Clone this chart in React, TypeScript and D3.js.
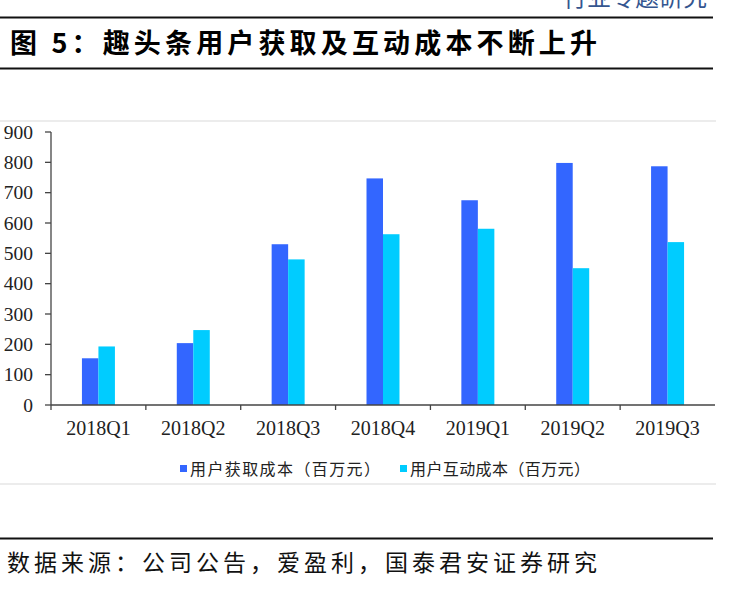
import React from "react";
import * as d3 from "d3";

const categories = ["2018Q1", "2018Q2", "2018Q3", "2018Q4", "2019Q1", "2019Q2", "2019Q3"];
const acquisitionCost = [154, 204, 530, 747, 675, 798, 787];
const interactionCost = [193, 247, 480, 563, 581, 451, 537];
const seriesNames = ["用户获取成本（百万元）", "用户互动成本（百万元）"];
const seriesColors = ["#3366FF", "#00CCFF"];
const yTicks = [0, 100, 200, 300, 400, 500, 600, 700, 800, 900];
const titleText = "图 5：趣头条用户获取及互动成本不断上升";
const sourceText = "数据来源：公司公告，爱盈利，国泰君安证券研究";
const headerText = "行业专题研究";

const W = 731;
const H = 592;
const plot = { left: 51, right: 715, top: 132, bottom: 405 };

export default function App() {
  const x0 = d3.scaleBand<string>().domain(categories).range([plot.left, plot.right]).padding(0);
  const x1 = d3
    .scaleBand<string>()
    .domain(seriesNames)
    .range([0, x0.bandwidth()])
    .paddingInner(0)
    .paddingOuter(1.875);
  const y = d3.scaleLinear().domain([0, 900]).range([plot.bottom, plot.top]);
  const seriesData = [acquisitionCost, interactionCost];
  const axisColor = "#444";
  const boundaries = d3.range(categories.length + 1).map((i) =>
    i < categories.length ? (x0(categories[i]) as number) : plot.right
  );

  return (
    <svg
      width={W}
      height={H}
      viewBox={`0 0 ${W} ${H}`}
      style={{ position: "absolute", left: 0, top: 0, background: "#fff" }}
    >
      {/* header (cut off at the top edge, as in the source page) */}
      <text
        x={707}
        y={6}
        textAnchor="end"
        fontFamily="Noto Sans CJK SC"
        fontSize={24}
        fill="#34558f"
      >
        {headerText}
      </text>
      <line x1={0} x2={713} y1={17.5} y2={17.5} stroke="#111" strokeWidth={2} />
      <text
        x={10}
        y={53}
        fontFamily="Noto Sans CJK SC"
        fontWeight="bold"
        fontSize={27}
        fill="#000"
        textLength={587}
        lengthAdjust="spacing"
      >
        {titleText}
      </text>
      <line x1={0} x2={713} y1={68.5} y2={68.5} stroke="#111" strokeWidth={2} />

      {/* chart frame lines */}
      <line x1={0} x2={716} y1={121} y2={121} stroke="#d9d9d9" strokeWidth={1} />
      <line x1={0} x2={716} y1={484} y2={484} stroke="#d9d9d9" strokeWidth={1} />

      {/* bars */}
      {categories.map((c, i) => (
        <g key={c} transform={`translate(${x0(c)},0)`}>
          {seriesNames.map((s, j) => (
            <rect
              key={s}
              x={x1(s)}
              y={y(seriesData[j][i])}
              width={x1.bandwidth()}
              height={y(0) - y(seriesData[j][i])}
              fill={seriesColors[j]}
            />
          ))}
        </g>
      ))}

      {/* y axis */}
      <line x1={plot.left} x2={plot.left} y1={plot.top} y2={plot.bottom + 5} stroke={axisColor} strokeWidth={1.3} />
      {yTicks.map((t) => (
        <g key={t}>
          <line x1={plot.left - 6} x2={plot.left} y1={y(t)} y2={y(t)} stroke={axisColor} strokeWidth={1.3} />
          <text
            x={33}
            y={y(t)}
            dy="0.35em"
            textAnchor="end"
            fontFamily="Liberation Serif"
            fontSize={19.5}
            fill="#222"
          >
            {t}
          </text>
        </g>
      ))}

      {/* x axis */}
      <line x1={plot.left} x2={plot.right} y1={plot.bottom} y2={plot.bottom} stroke={axisColor} strokeWidth={1.3} />
      {boundaries.slice(1, -1).map((b, i) => (
        <line key={i} x1={b} x2={b} y1={plot.bottom} y2={plot.bottom + 5} stroke={axisColor} strokeWidth={1.3} />
      ))}
      {categories.map((c) => (
        <text
          key={c}
          x={(x0(c) as number) + x0.bandwidth() / 2}
          y={435}
          textAnchor="middle"
          fontFamily="Liberation Serif"
          fontSize={20}
          fill="#222"
        >
          {c}
        </text>
      ))}

      {/* legend */}
      {seriesNames.map((s, j) => {
        const lx = j === 0 ? 180 : 400;
        return (
          <g key={s}>
            <rect x={lx} y={465} width={7} height={7} fill={seriesColors[j]} />
            <text
              x={lx + 10}
              y={475}
              fontFamily="Noto Sans CJK SC"
              fontSize={16}
              fill="#222"
              textLength={j === 0 ? 190 : 180}
              lengthAdjust="spacing"
            >
              {s}
            </text>
          </g>
        );
      })}

      {/* source */}
      <line x1={0} x2={713} y1={538.5} y2={538.5} stroke="#111" strokeWidth={2} />
      <text
        x={7}
        y={571}
        fontFamily="Noto Sans CJK SC"
        fontSize={23}
        fill="#111"
        textLength={590}
        lengthAdjust="spacing"
      >
        {sourceText}
      </text>
    </svg>
  );
}
